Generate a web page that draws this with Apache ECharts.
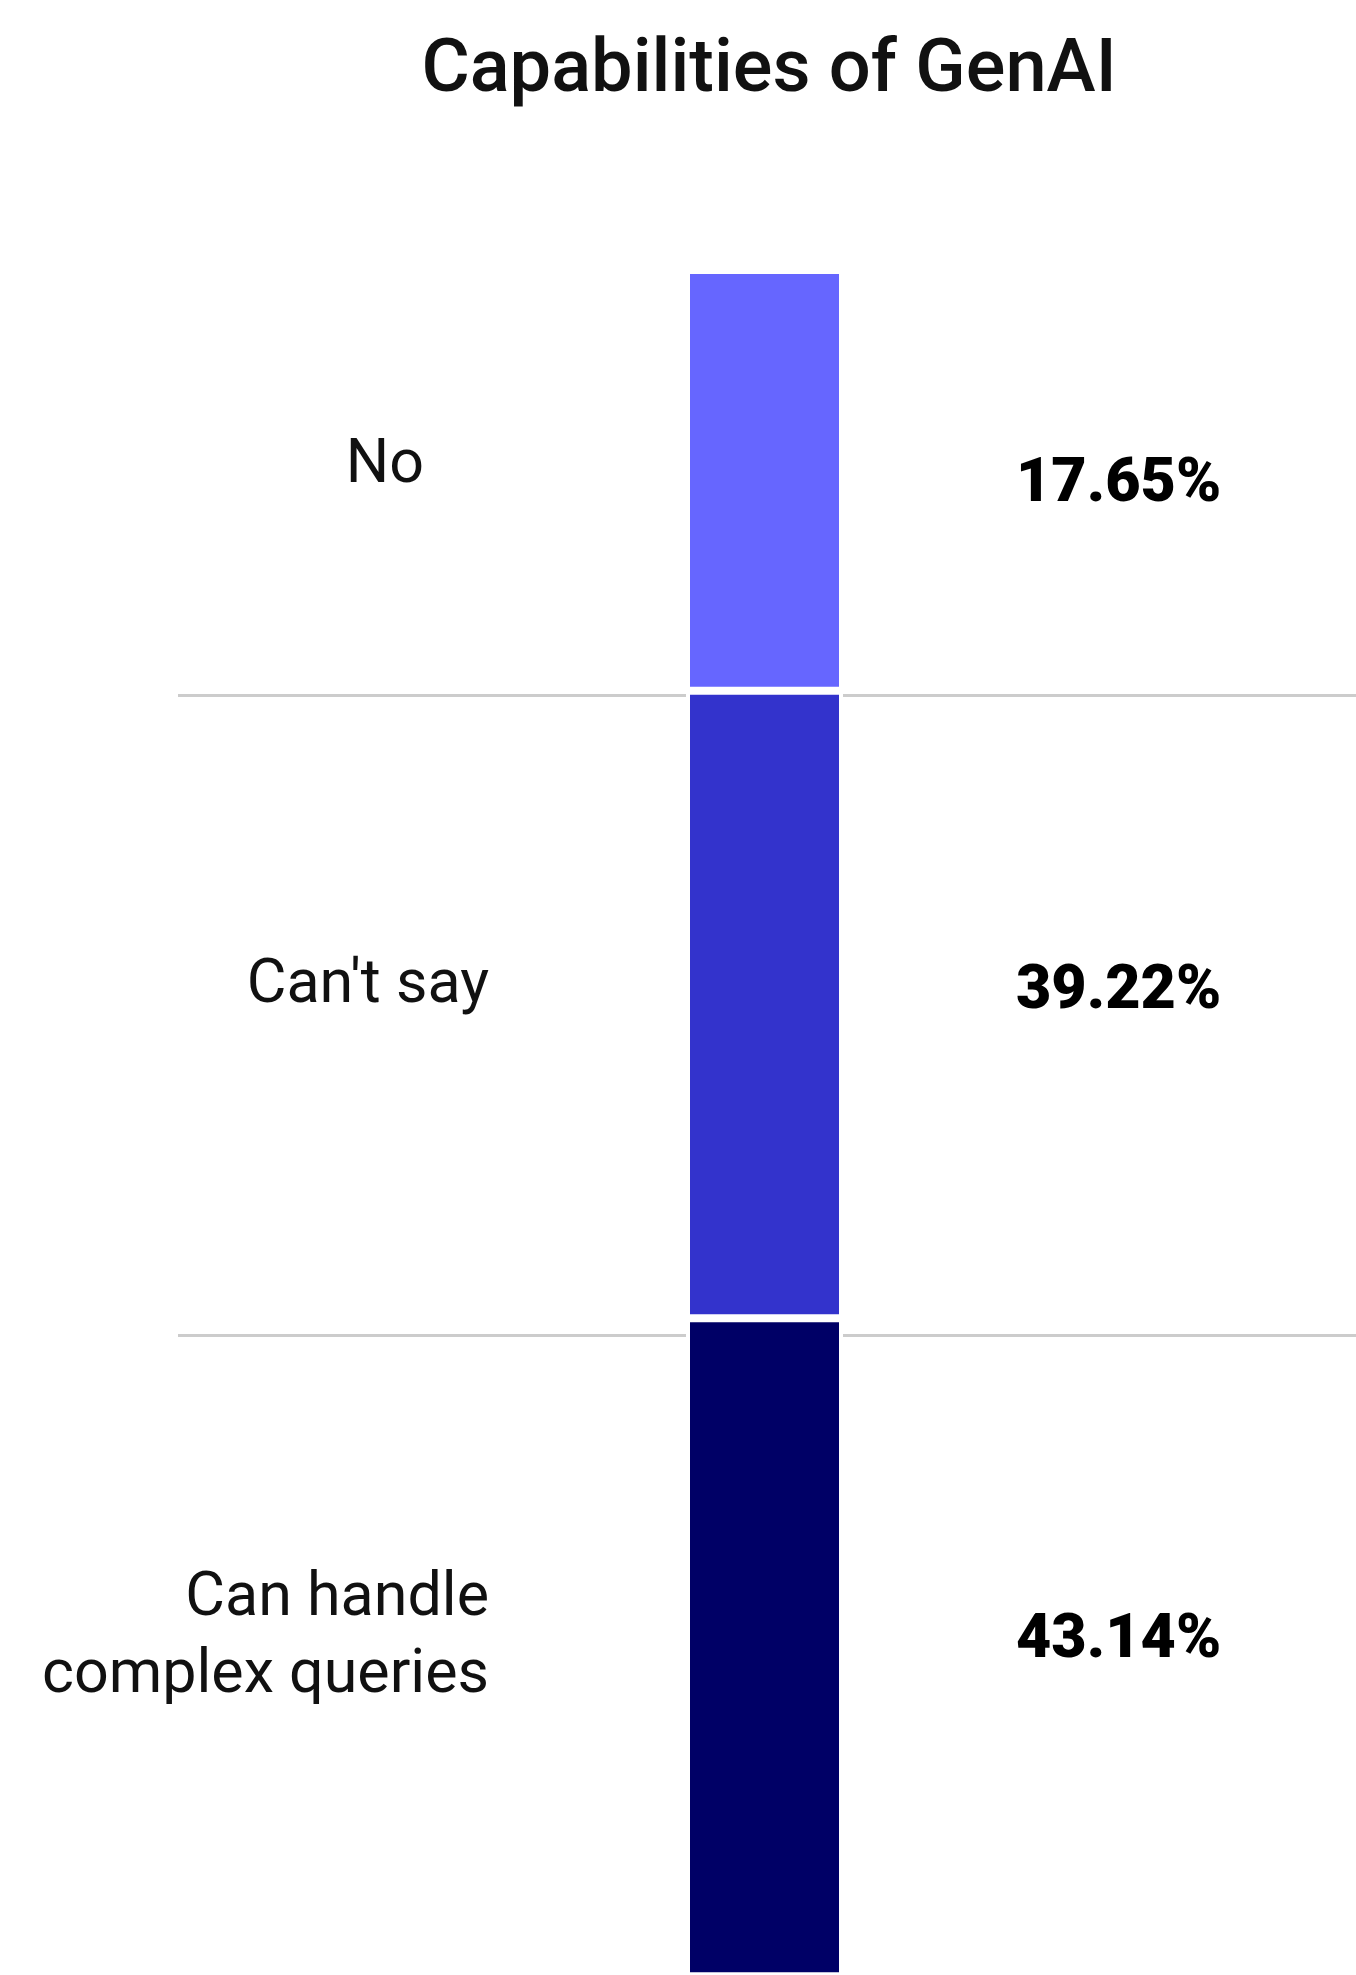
<!DOCTYPE html>
<html><head><meta charset="utf-8">
<script src="https://cdn.jsdelivr.net/npm/echarts@6/dist/echarts.min.js"></script>
<style>html,body{margin:0;padding:0;background:#fff}#c{width:1356px;height:1975px}</style>
</head><body><div id="c"></div>
<script>
// ---- data ----
const titleText = 'Capabilities of GenAI';
const categories = ['No', "Can't say", 'Can handle\ncomplex queries'];
const values = [17.65, 39.22, 43.14];

// ---- styles / layout ----
const colors = ['#6666FF', '#3333CC', '#000066'];
const nameOffsets = [[-65, -14], [0, -18], [0, -8]];
const valueOffsets = [[0, 5], [0, -12], [0, -5]];
const FONT = 'Roboto, "Liberation Sans", sans-serif';

const series = [];
categories.forEach((cat, i) => {
  // visible column segment (square-root scaled height), value label at right
  series.push({
    type: 'bar', name: cat, stack: 'col', xAxisIndex: 1, yAxisIndex: 1,
    barWidth: 157, barGap: '-100%',
    data: [Math.sqrt(values[i])],
    itemStyle: { color: colors[i], borderColor: '#ffffff', borderWidth: 4 },
    label: {
      show: true, position: 'right', distance: 173, offset: valueOffsets[i],
      formatter: values[i].toFixed(2) + '%',
      fontFamily: FONT, fontSize: 61, fontWeight: 900, color: '#000'
    },
    emphasis: { disabled: true }, silent: true
  });
  // same segment, transparent, carrying the category name at left
  series.push({
    type: 'bar', name: cat + ' ', stack: 'names', xAxisIndex: 1, yAxisIndex: 1,
    barWidth: 157, barGap: '-100%',
    data: [Math.sqrt(values[i])],
    itemStyle: { color: 'rgba(0,0,0,0)' },
    label: {
      show: true, position: 'left', distance: 197, offset: nameOffsets[i],
      formatter: cat, align: 'right',
      fontFamily: FONT, fontSize: 61, fontWeight: 400, color: '#111', lineHeight: 77
    },
    emphasis: { disabled: true }, silent: true
  });
});

const chart = echarts.init(document.getElementById('c'), null, { renderer: 'canvas' });
chart.setOption({
  animation: false,
  backgroundColor: '#ffffff',
  title: {
    text: titleText, left: 764, top: 30, textAlign: 'center',
    textStyle: { fontFamily: FONT, fontSize: 74, fontWeight: 500, color: '#111' }
  },
  grid: [
    { left: 178, right: 0, top: 55, bottom: 0 },
    { left: 173, right: 0, top: 270, bottom: 0 }
  ],
  xAxis: [
    { type: 'value', gridIndex: 0, show: false },
    { type: 'category', gridIndex: 1, data: [''], show: false }
  ],
  yAxis: [
    {
      type: 'category', gridIndex: 0, inverse: true, data: categories,
      axisLine: { show: false }, axisTick: { show: false }, axisLabel: { show: false },
      splitLine: { show: true, interval: 0, showMinLine: false, showMaxLine: false,
        lineStyle: { color: '#cccccc', width: 3 } }
    },
    { type: 'value', gridIndex: 1, inverse: true, min: 0, max: 17.02, show: false, splitLine: { show: false } }
  ],
  series: series
});
</script>
</body></html>
